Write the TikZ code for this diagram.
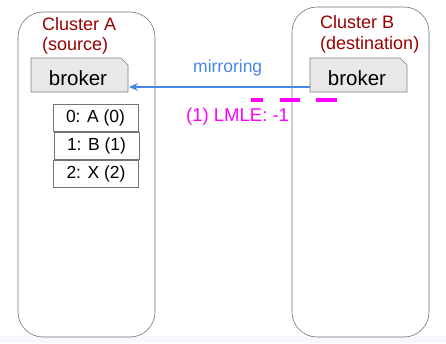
\documentclass[tikz,border=0pt]{standalone}
\usepackage{fontspec}
\setmainfont{Liberation Sans}
\usetikzlibrary{arrows.meta}
\definecolor{clred}{HTML}{990000}
\definecolor{mirblue}{HTML}{4A86E8}
\definecolor{brokfill}{HTML}{E8E8E8}
\definecolor{mag}{HTML}{FF00FF}
\begin{document}
\begin{tikzpicture}[x=1pt,y=-1pt,
  cluster/.style={draw=black!55, line width=0.6pt, rounded corners=25pt},
  cltext/.style={text=clred, font=\fontsize{18}{21}\selectfont, anchor=west, inner sep=0pt},
  brokertext/.style={font=\fontsize{20.5}{23}\selectfont, inner sep=0pt},
  rowbox/.style={draw=black!55, line width=0.6pt, fill=white, minimum width=85pt, minimum height=27pt, inner sep=0pt, font=\fontsize{17.5}{20}\selectfont}
]
\useasboundingbox (0,0) rectangle (446,343);
\fill[fill={rgb,255:red,248;green,248;blue,252}] (0,336) rectangle (446,343);
% clusters
\draw[cluster] (18,12) rectangle (155,337);
\draw[cluster] (292,7) rectangle (429,337);
\node[cltext] (ca1) at (42,24) {Cluster A};
\node[cltext] (ca2) at (42,46) {(source)};
\node[cltext] (cb1) at (320,22) {Cluster B};
\node[cltext] (cb2) at (320,45) {(destination)};
% brokers
\draw[draw=black!50, fill=brokfill, line width=0.6pt] (31,58) -- (121,58) -- (128,65) -- (128,92) -- (31,92) -- cycle;
\draw[draw=black!50, fill=brokfill, line width=0.6pt] (310,58) -- (400,58) -- (407,65) -- (407,92) -- (310,92) -- cycle;
\coordinate (brA) at (129,87);
\coordinate (brB) at (310,87);
\node[brokertext] (ba) at (78,78) {broker};
\node[brokertext] (bb) at (357,78) {broker};
% arrow
\draw[draw=mirblue, line width=1.2pt, -{Stealth[length=9pt,width=8pt]}] (brB) -- (brA);
\node[text=mirblue, font=\fontsize{17.5}{20}\selectfont, anchor=west, inner sep=0pt] (mir) at (193,68) {mirroring};
% LMLE
\draw[draw=mag, line width=4pt] (251,100) -- (263,100);
\draw[draw=mag, line width=4pt] (280,100) -- (300,100);
\draw[draw=mag, line width=4pt] (316,100) -- (337,100);
\node[text=mag, font=\fontsize{18.5}{21}\selectfont, anchor=west, inner sep=0pt] (lmle) at (186,117) {(1) LMLE: -1};
% table
\node[rowbox] (r0) at (95.5,118) {0: A (0)};
\node[rowbox] (r1) at (96.5,145.5) {1: B (1)};
\node[rowbox] (r2) at (96,173.5) {2: X (2)};
\end{tikzpicture}
\end{document}
